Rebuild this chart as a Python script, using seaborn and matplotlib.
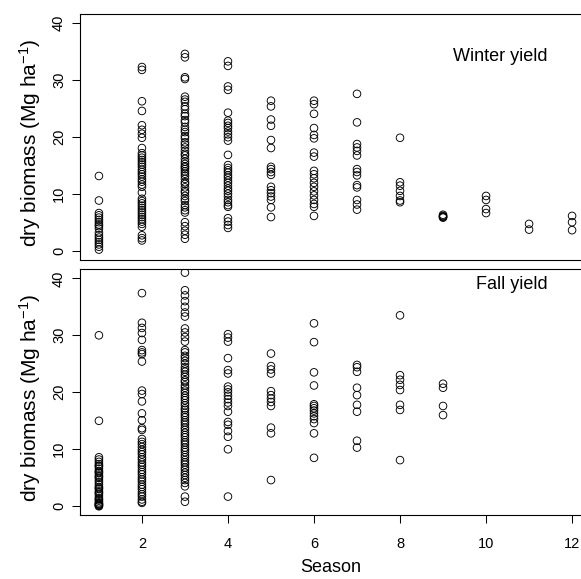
import numpy as np
import pandas as pd
import matplotlib
matplotlib.use("Agg")
import matplotlib.pyplot as plt
import seaborn as sns

# ---------------- data ----------------
seasons = [1, 2, 3, 4, 5, 6, 7, 8, 9, 10, 11, 12]

winter_1 = [13.2, 8.9, 6.7, 6.3, 5.9, 5.5, 5.1, 4.7, 4.4, 4.0, 3.3, 2.8, 2.4, 2.0, 1.6, 1.2, 0.8, 0.3]
winter_2 = [32.3, 31.8, 26.3, 24.6, 22.1, 21.3, 20.6, 19.9, 18.1, 17.2, 16.8, 16.4, 16.0, 15.6,
            15.2, 14.8, 14.3, 13.9, 13.5, 13.1, 12.6, 12.2, 11.7, 11.3, 10.3, 9.2, 8.8, 8.4, 8.0,
            7.6, 7.2, 6.8, 6.4, 6.0, 5.6, 5.2, 4.8, 4.3, 2.8, 2.3, 1.9]
winter_3 = [34.6, 34.0, 30.5, 30.2, 27.1, 26.6, 26.2, 25.4, 24.9, 24.1, 23.7, 23.0, 22.6, 21.8,
            21.3, 20.9, 20.2, 19.8, 19.1, 18.7, 18.2, 17.6, 17.1, 16.8, 16.2, 15.7, 15.3, 14.9,
            14.7, 14.4, 14.0, 13.6, 13.2, 12.7, 12.1, 11.8, 11.2, 10.6, 10.3, 9.7, 9.2, 8.8, 8.1,
            7.7, 7.2, 6.8, 5.1, 4.4, 3.6, 2.9, 2.2]
winter_4 = [33.3, 32.5, 28.9, 28.3, 24.3, 22.9, 22.5, 22.0, 21.6, 21.0, 20.5, 20.0, 19.4, 16.9,
            15.1, 14.6, 14.2, 13.8, 13.3, 12.9, 12.4, 12.0, 11.5, 11.0, 10.6, 10.1, 9.6, 9.0,
            8.6, 8.1, 7.8, 5.8, 5.2, 4.6, 4.1]
winter_5 = [26.4, 25.4, 23.1, 22.0, 19.5, 18.1, 14.8, 14.4, 13.9, 13.4, 11.3, 10.7, 10.2, 9.6, 9.0, 7.7, 6.0]
winter_6 = [26.4, 25.8, 24.1, 21.6, 20.4, 19.8, 17.3, 16.6, 14.1, 13.5, 12.8, 12.0, 11.3, 10.5,
            9.8, 9.0, 8.3, 7.8, 6.2]
winter_7 = [27.6, 22.6, 18.8, 18.2, 17.6, 16.8, 14.4, 13.9, 13.3, 11.6, 11.2, 9.0, 8.2, 7.3]
winter_8 = [19.9, 12.1, 11.5, 10.6, 9.7, 8.9, 8.6]
winter_9 = [6.4, 6.2, 6.1, 5.9, 6.0]
winter_10 = [9.7, 9.0, 7.4, 6.7]
winter_11 = [4.8, 3.8]
winter_12 = [6.2, 5.1, 3.7]

fall_1 = [30.0, 15.0, 8.6, 8.2, 7.8, 7.4, 7.1, 7.0, 6.6, 6.2, 6.0, 5.8, 5.4, 5.2, 5.0, 4.6, 4.2,
          3.8, 3.4, 3.2, 3.0, 2.6, 2.4, 2.2, 1.8, 1.4, 1.2, 1.0, 0.7, 0.5, 0.4, 0.3, 0.2, 0.1, 0.0]
fall_2 = [37.4, 32.2, 31.3, 30.4, 29.2, 27.4, 27.0, 26.7, 25.4, 20.3, 19.7, 18.4, 16.3, 15.1,
          13.7, 13.4, 11.8, 11.3, 10.9, 10.4, 9.9, 9.5, 9.1, 8.6, 8.2, 7.7, 7.3, 6.9, 6.4, 6.0,
          5.6, 5.1, 4.7, 4.3, 3.8, 3.4, 3.0, 2.5, 2.1, 1.7, 1.2, 0.8, 0.6]
fall_3 = [41.0, 37.9, 37.0, 36.0, 35.0, 34.0, 33.3, 31.2, 30.5, 29.7, 28.9, 27.4, 27.0, 26.4,
          26.0, 25.5, 25.0, 24.4, 24.0, 23.6, 23.1, 22.7, 22.1, 21.8, 21.2, 20.8, 20.3, 19.9,
          19.4, 19.0, 18.6, 18.1, 17.7, 17.2, 16.9, 16.4, 16.0, 15.6, 15.1, 14.7, 14.3, 13.8,
          13.4, 12.9, 12.5, 12.1, 11.6, 11.2, 10.8, 10.3, 9.9, 9.5, 9.0, 8.6, 8.1, 7.7, 7.3,
          6.8, 6.4, 5.9, 5.5, 5.0, 4.6, 4.1, 3.5, 1.7, 0.8]
fall_4 = [30.2, 29.6, 28.9, 26.0, 23.9, 23.3, 21.0, 20.5, 20.0, 19.4, 18.8, 18.2, 17.6, 16.6,
          14.8, 14.3, 13.2, 12.2, 10.0, 1.7]
fall_5 = [26.8, 24.6, 24.0, 23.3, 20.2, 19.5, 18.9, 18.3, 17.6, 13.8, 12.8, 4.6]
fall_6 = [32.1, 28.8, 23.5, 21.2, 17.9, 17.6, 17.2, 16.8, 16.3, 15.8, 15.3, 14.6, 12.8, 8.5]
fall_7 = [24.8, 24.4, 23.6, 20.8, 19.5, 17.8, 16.6, 11.5, 10.3]
fall_8 = [33.5, 23.0, 22.2, 21.3, 20.4, 17.8, 16.9, 8.1]
fall_9 = [21.5, 20.8, 17.6, 16.0]

winter_lists = [winter_1, winter_2, winter_3, winter_4, winter_5, winter_6, winter_7,
                winter_8, winter_9, winter_10, winter_11, winter_12]
fall_lists = [fall_1, fall_2, fall_3, fall_4, fall_5, fall_6, fall_7, fall_8, fall_9]

y_ticks = [0, 10, 20, 30, 40]
x_ticks = [2, 4, 6, 8, 10, 12]
panel_titles = ["Winter yield", "Fall yield"]
y_label = "dry biomass (Mg ha$^{-1}$)"
x_label = "Season"


def long_frame(lists):
    rows = []
    for s, vals in zip(seasons, lists):
        for v in vals:
            rows.append((s, v))
    return pd.DataFrame(rows, columns=["season", "biomass"])


df_winter = long_frame(winter_lists)
df_fall = long_frame(fall_lists)

# ---------------- figure ----------------
sns.set_style("ticks")
plt.rcParams["font.family"] = ["Liberation Sans", "DejaVu Sans"]
plt.rcParams["mathtext.default"] = "regular"
for key in ["text.color", "axes.labelcolor", "xtick.color", "ytick.color", "axes.edgecolor"]:
    plt.rcParams[key] = "black"

W, H = 581, 579
fig = plt.figure(figsize=(W / 100, H / 100), dpi=100)
ax1 = fig.add_axes([80 / W, (H - 260.4) / H, 511 / W, 246.4 / H])
ax2 = fig.add_axes([80 / W, (H - 515.4) / H, 511 / W, 246.2 / H])

for ax, df, title, tpos in [(ax1, df_winter, panel_titles[0], (10.33, 34.1)),
                            (ax2, df_fall, panel_titles[1], (10.6, 39.0))]:
    sns.scatterplot(data=df, x="season", y="biomass", ax=ax, marker="o", s=30,
                    facecolors="none", edgecolor="black", linewidth=0.65, legend=False)
    for c in ax.collections:
        c.set_facecolor("none")
        c.set_edgecolor("black")
    ax.set_xlim(0.56, 12.44)
    ax.set_ylim(-1.6, 41.6)
    ax.set_yticks(y_ticks)
    ax.tick_params(axis="y", direction="out", length=5.8, width=0.75, pad=4.3,
                   labelsize=10.5, labelrotation=90, colors="black")
    for lbl in ax.get_yticklabels():
        lbl.set_va("center")
    for sp in ax.spines.values():
        sp.set_visible(True)
        sp.set_linewidth(0.8)
        sp.set_color("black")
    ax.set_ylabel(y_label, fontsize=15, color="black")
    ax.yaxis.set_label_coords(-0.0724, 0.476)
    ax.text(tpos[0], tpos[1], title, ha="center", va="center", fontsize=13, color="black")

ax1.set_xlabel("")
ax1.tick_params(axis="x", bottom=False, labelbottom=False)

ax2.set_xticks(x_ticks)
ax2.tick_params(axis="x", direction="out", length=5.8, width=0.75, pad=10,
                labelsize=10.5, colors="black")
ax2.set_xlabel(x_label, fontsize=13, color="black")
ax2.xaxis.set_label_coords(0.491, -0.176)

fig.savefig("out.png", dpi=100)
